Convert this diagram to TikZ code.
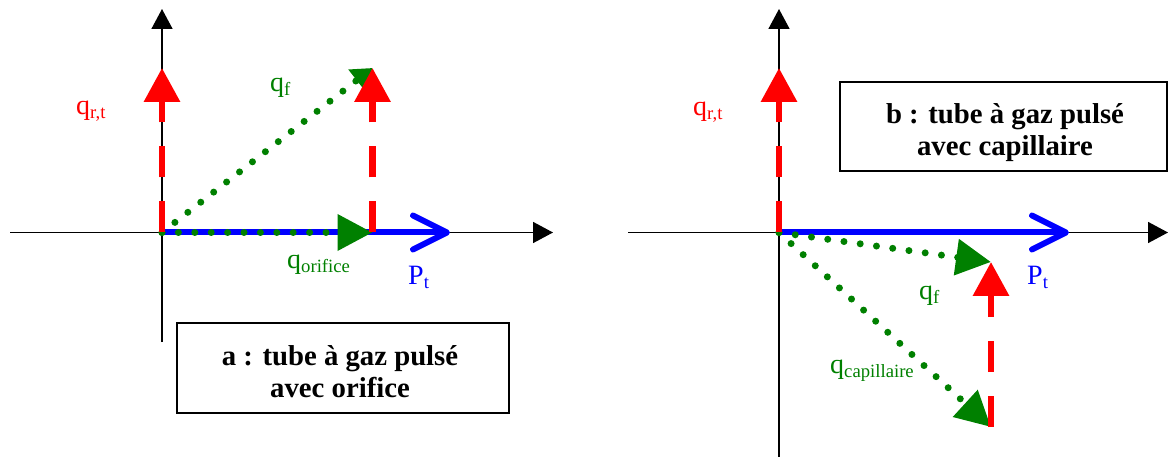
\documentclass[tikz,border=0pt]{standalone}
\usepackage{fontspec}
\setmainfont{Liberation Serif}
\usetikzlibrary{arrows.meta}
\definecolor{qred}{RGB}{255,0,0}
\definecolor{qgreen}{RGB}{0,128,0}
\definecolor{qblue}{RGB}{0,0,255}
\newcommand{\lsub}[1]{\raisebox{-4pt}{\fontsize{18.7}{20}\selectfont #1}}
\begin{document}
\begin{tikzpicture}[x=1pt,y=-1pt,
  axis/.style={line width=1.6pt, -{Triangle[length=20pt,width=21pt]}},
  pvec/.style={qblue, line width=6pt, line cap=round, -{Straight Barb[length=34pt,width=34pt,round]}},
  qvec/.style={qred, line width=6.5pt, dash pattern=on 31pt off 24pt, -{Triangle[length=34pt,width=35pt]}},
  gvec/.style={qgreen, line width=7pt, line cap=round, dash pattern=on 0pt off 16.4pt, -{Triangle[length=35pt,width=35pt]}},
  gvecsmall/.style={qgreen, line width=7pt, line cap=round, dash pattern=on 0pt off 16.4pt, -{Triangle[length=20pt,width=26pt]}},
  lab/.style={inner sep=0pt, anchor=base west, font=\fontsize{28}{30}\selectfont},
  titlebox/.style={draw, line width=1.6pt, inner sep=0pt},
  titletext/.style={inner sep=0pt, anchor=base, font=\fontsize{28.75}{30}\selectfont\bfseries}
]
\useasboundingbox (0,0) rectangle (1168,457);

% ---------- left diagram ----------
\coordinate (Oa) at (162,232.5);
\coordinate (XaL) at (10,232.5);
\coordinate (XaR) at (553,232.5);
\coordinate (YaB) at (162,342);
\coordinate (YaT) at (162,9);
\coordinate (Pa) at (450,232.5);
\coordinate (Qa) at (162,68);
\coordinate (Fa) at (372.5,68);
\coordinate (Ra) at (372.5,232.5);

\draw[axis] (XaL) -- (XaR);
\draw[axis] (YaB) -- (YaT);
\draw[pvec] (Oa) -- (Pa);
\draw[gvec] (Oa) -- (Ra);
\draw[gvecsmall] (Oa) -- (Fa);
\draw[qvec] (Oa) -- (Qa);
\draw[qvec] (Ra) -- (Fa);

\node[lab, qred] (lqa) at (76,115) {q\lsub{r,t}};
\node[lab, qgreen] (lfa) at (270,92) {q\lsub{f}};
\node[lab, qgreen] (loa) at (287,269) {q\lsub{orifice}};
\node[lab, qblue] (lpa) at (408,285) {P\lsub{t}};

\node[titlebox, minimum width=332pt, minimum height=90pt] (boxa) at (343,368) {};
\node[titletext] (boxa1) at (340,365) {a : tube à gaz pulsé};
\node[titletext] (boxa2) at (340,397) {avec orifice};

% ---------- right diagram ----------
\coordinate (Ob) at (779,232.5);
\coordinate (XbL) at (628,232.5);
\coordinate (XbR) at (1168,232.5);
\coordinate (YbB) at (779,457);
\coordinate (YbT) at (779,9);
\coordinate (Pb) at (1069,232.5);
\coordinate (Qb) at (779,68);
\coordinate (Fb) at (991,262);
\coordinate (Cb) at (991,427);

\draw[axis] (XbL) -- (XbR);
\draw[axis] (YbB) -- (YbT);
\draw[pvec] (Ob) -- (Pb);
\draw[gvec] (Ob) -- (Fb);
\draw[gvec] (Ob) -- (Cb);
\draw[qvec] (Ob) -- (Qb);
\draw[qvec] (Cb) -- (Fb);

\node[lab, qred] (lqb) at (693,116) {q\lsub{r,t}};
\node[lab, qgreen] (lfb) at (919,300) {q\lsub{f}};
\node[lab, qgreen] (lcb) at (830,373) {q\lsub{capillaire}};
\node[lab, qblue] (lpb) at (1027,285) {P\lsub{t}};

\node[titlebox, minimum width=327pt, minimum height=89pt] (boxb) at (1003.5,126.5) {};
\node[titletext] (boxb1) at (1005,124) {b : tube à gaz pulsé};
\node[titletext] (boxb2) at (1005,156) {avec capillaire};
\end{tikzpicture}
\end{document}
